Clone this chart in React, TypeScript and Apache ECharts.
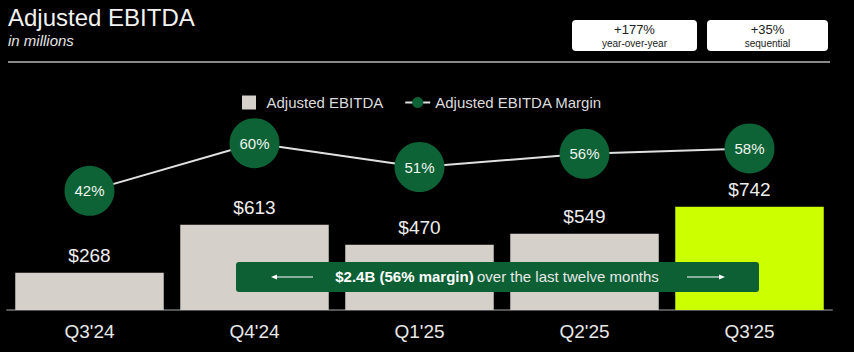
import React, { useEffect, useRef } from "react";
import * as echarts from "echarts";

const categories = ["Q3'24", "Q4'24", "Q1'25", "Q2'25", "Q3'25"];
const ebitda = [268, 613, 470, 549, 742];
const margin = [42, 60, 51, 56, 58];
const FONT = "'Liberation Sans', Arial, Helvetica, sans-serif";

export default function App() {
  const ref = useRef<HTMLDivElement>(null);
  useEffect(() => {
    if (!ref.current) return;
    const chart = echarts.init(ref.current, null, { renderer: "svg" });
    const green = "#0d6236";
    const Z = 100;
    chart.setOption({
      animation: false,
      backgroundColor: "#000",
      textStyle: { fontFamily: FONT },
      legend: {
        top: 90,
        left: 237,
        itemGap: 21,
        itemWidth: 25,
        itemHeight: 14,
        textStyle: { color: "#dcdcdc", fontSize: 15, fontFamily: FONT },
        data: [
          { name: "Adjusted EBITDA", icon: "path://M0,0h14v14h-14z", itemStyle: { color: "#d5d1ca" } },
          { name: "Adjusted EBITDA Margin" },
        ],
      },
      grid: { left: 7, right: 22, top: 140, bottom: 42, containLabel: false },
      xAxis: {
        type: "category",
        data: categories,
        axisLine: { show: true, lineStyle: { color: "#555", width: 2 } },
        axisTick: { show: false },
        axisLabel: { color: "#e8e8e8", fontSize: 19, margin: 12, fontFamily: FONT },
      },
      yAxis: [
        { type: "value", min: 0, max: 1223, show: false, splitLine: { show: false } },
        { type: "value", min: -3, max: 61.2, show: false, splitLine: { show: false } },
      ],
      series: [
        {
          name: "Adjusted EBITDA",
          type: "bar",
          yAxisIndex: 0,
          barCategoryGap: "10%",
          itemStyle: { color: "#d5d1ca" },
          data: ebitda.map((v, i) =>
            i === ebitda.length - 1 ? { value: v, itemStyle: { color: "#ccff00" } } : v
          ),
          label: {
            show: true,
            position: "top",
            distance: 8,
            color: "#eeeeee",
            fontSize: 19,
            fontFamily: FONT,
            formatter: (p: any) => "$" + p.value,
          },
          z: 2,
        },
        {
          name: "Adjusted EBITDA Margin",
          type: "line",
          yAxisIndex: 1,
          data: margin,
          symbol: "circle",
          symbolSize: 50,
          lineStyle: { color: "#e0e0e0", width: 2 },
          itemStyle: { color: green, borderWidth: 0 },
          label: {
            show: true,
            position: "inside",
            color: "#f0f5ee",
            fontSize: 15,
            fontFamily: FONT,
            formatter: (p: any) => p.value + "%",
          },
          z: 3,
        },
      ],
      graphic: [
        {
          type: "text",
          left: 8,
          top: 5,
          style: { text: "Adjusted EBITDA", fill: "#f2f2f2", font: `24px ${FONT}` },
        },
        {
          type: "text",
          left: 8,
          top: 33,
          style: { text: "in millions", fill: "#e6e6e6", font: `italic 15px ${FONT}` },
        },
        {
          type: "line",
          shape: { x1: 8, y1: 62, x2: 830, y2: 62 },
          style: { stroke: "#8a8a8a", lineWidth: 2 },
        },
        {
          type: "rect",
          shape: { x: 572, y: 20, width: 125, height: 31, r: 4 },
          style: { fill: "#ffffff" },
        },
        {
          type: "text",
          x: 634.5,
          y: 29,
          style: { text: "+177%", fill: "#222", font: `13px ${FONT}`, align: "center", verticalAlign: "middle" },
        },
        {
          type: "text",
          x: 634.5,
          y: 43,
          style: { text: "year-over-year", fill: "#222", font: `10px ${FONT}`, align: "center", verticalAlign: "middle" },
        },
        {
          type: "rect",
          shape: { x: 707, y: 20, width: 121, height: 31, r: 4 },
          style: { fill: "#ffffff" },
        },
        {
          type: "text",
          x: 767.5,
          y: 29,
          style: { text: "+35%", fill: "#222", font: `13px ${FONT}`, align: "center", verticalAlign: "middle" },
        },
        {
          type: "text",
          x: 767.5,
          y: 43,
          style: { text: "sequential", fill: "#222", font: `10px ${FONT}`, align: "center", verticalAlign: "middle" },
        },
        {
          type: "rect",
          z: Z,
          shape: { x: 236, y: 262, width: 523, height: 30, r: 3 },
          style: { fill: "#0d6034" },
        },
        {
          type: "line",
          z: Z + 1,
          shape: { x1: 274, y1: 277, x2: 313, y2: 277 },
          style: { stroke: "#fff", lineWidth: 1.2 },
        },
        {
          type: "polygon",
          z: Z + 1,
          shape: { points: [[271, 277], [277, 274.5], [277, 279.5]] },
          style: { fill: "#fff" },
        },
        {
          type: "line",
          z: Z + 1,
          shape: { x1: 687, y1: 277, x2: 722, y2: 277 },
          style: { stroke: "#fff", lineWidth: 1.2 },
        },
        {
          type: "polygon",
          z: Z + 1,
          shape: { points: [[725, 277], [719, 274.5], [719, 279.5]] },
          style: { fill: "#fff" },
        },
        {
          type: "text",
          z: Z + 1,
          x: 497,
          y: 276,
          style: {
            text: "{b|$2.4B (56% margin)} {n|over the last twelve months}",
            align: "center",
            verticalAlign: "middle",
            rich: {
              b: { fill: "#ffffff", font: `bold 15px ${FONT}` },
              n: { fill: "#e8e8e8", font: `15px ${FONT}` },
            },
          },
        },
      ],
    });
    return () => chart.dispose();
  }, []);
  return (
    <div
      ref={ref}
      style={{ position: "fixed", left: 0, top: 0, width: 854, height: 352 }}
    />
  );
}
